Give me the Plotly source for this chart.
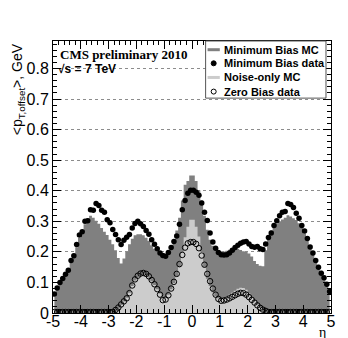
import plotly.graph_objects as go

# eta bin centres (0.1 wide bins)
eta = [
    -4.95, -4.85, -4.75, -4.65, -4.55, -4.45, -4.35, -4.25, -4.15, -4.05,
    -3.95, -3.85, -3.75, -3.65, -3.55, -3.45, -3.35, -3.25, -3.15, -3.05,
    -2.95, -2.85, -2.75, -2.65, -2.55, -2.45, -2.35, -2.25, -2.15, -2.05,
    -1.95, -1.85, -1.75, -1.65, -1.55, -1.45, -1.35, -1.25, -1.15, -1.05,
    -0.95, -0.85, -0.75, -0.65, -0.55, -0.45, -0.35, -0.25, -0.15, -0.05,
    0.05, 0.15, 0.25, 0.35, 0.45, 0.55, 0.65, 0.75, 0.85, 0.95,
    1.05, 1.15, 1.25, 1.35, 1.45, 1.55, 1.65, 1.75, 1.85, 1.95,
    2.05, 2.15, 2.25, 2.35, 2.45, 2.55, 2.65, 2.75, 2.85, 2.95,
    3.05, 3.15, 3.25, 3.35, 3.45, 3.55, 3.65, 3.75, 3.85, 3.95,
    4.05, 4.15, 4.25, 4.35, 4.45, 4.55, 4.65, 4.75, 4.85, 4.95,
]

minbias_mc = [
    0.055, 0.075, 0.095, 0.110, 0.125, 0.140, 0.165, 0.185, 0.215, 0.245,
    0.265, 0.290, 0.310, 0.318, 0.312, 0.302, 0.292, 0.278, 0.266, 0.255,
    0.240, 0.225, 0.205, 0.180, 0.162, 0.178, 0.200, 0.225, 0.243, 0.254,
    0.258, 0.258, 0.254, 0.246, 0.236, 0.222, 0.210, 0.200, 0.192, 0.188,
    0.190, 0.198, 0.214, 0.238, 0.270, 0.312, 0.368, 0.420, 0.432, 0.450,
    0.450, 0.432, 0.402, 0.368, 0.318, 0.272, 0.240, 0.220, 0.206, 0.200,
    0.200, 0.201, 0.204, 0.207, 0.209, 0.210, 0.210, 0.206, 0.202, 0.200,
    0.195, 0.185, 0.170, 0.160, 0.155, 0.153, 0.205, 0.255, 0.270, 0.284,
    0.292, 0.300, 0.306, 0.312, 0.320, 0.316, 0.310, 0.304, 0.294, 0.280,
    0.260, 0.240, 0.220, 0.200, 0.180, 0.158, 0.138, 0.118, 0.095, 0.072,
]

minbias_data = [
    0.062, 0.082, 0.100, 0.113, 0.127, 0.140, 0.172, 0.187, 0.224, 0.255,
    0.266, 0.300, 0.302, 0.338, 0.336, 0.358, 0.352, 0.336, 0.330, 0.305,
    0.295, 0.273, 0.257, 0.240, 0.224, 0.238, 0.248, 0.257, 0.278, 0.293,
    0.300, 0.292, 0.283, 0.270, 0.258, 0.240, 0.225, 0.210, 0.196, 0.188,
    0.186, 0.198, 0.214, 0.234, 0.252, 0.290, 0.338, 0.368, 0.392, 0.402,
    0.402, 0.395, 0.385, 0.360, 0.330, 0.303, 0.262, 0.232, 0.212, 0.198,
    0.191, 0.190, 0.191, 0.196, 0.205, 0.214, 0.222, 0.228, 0.232, 0.234,
    0.226, 0.218, 0.215, 0.218, 0.210, 0.208, 0.226, 0.247, 0.262, 0.286,
    0.302, 0.318, 0.330, 0.332, 0.358, 0.355, 0.345, 0.326, 0.310, 0.286,
    0.268, 0.244, 0.216, 0.196, 0.172, 0.150, 0.130, 0.115, 0.094, 0.070,
]

noise_mc = [0.0] * 22 + [
    0.005, 0.014, 0.026, 0.038, 0.050, 0.066, 0.088, 0.106,
    0.118, 0.125, 0.127, 0.125, 0.116, 0.104, 0.092, 0.078, 0.064, 0.052,
    0.050, 0.060, 0.078, 0.098, 0.120, 0.150, 0.200, 0.248, 0.282, 0.305,
    0.305, 0.282, 0.250, 0.200, 0.150, 0.112, 0.088, 0.068, 0.055, 0.048,
    0.046, 0.050, 0.055, 0.060, 0.066, 0.073, 0.079, 0.083, 0.082, 0.076,
    0.064, 0.052, 0.040, 0.028, 0.018, 0.010, 0.004,
] + [0.0] * 23

zerobias_data = [0.003] * 22 + [
    0.010, 0.018, 0.028, 0.038, 0.048, 0.065, 0.090, 0.110,
    0.122, 0.129, 0.131, 0.128, 0.120, 0.108, 0.094, 0.078, 0.060, 0.042,
    0.044, 0.058, 0.080, 0.102, 0.128, 0.160, 0.190, 0.214, 0.228, 0.232,
    0.232, 0.226, 0.212, 0.188, 0.158, 0.128, 0.104, 0.080, 0.060, 0.046,
    0.040, 0.041, 0.044, 0.048, 0.053, 0.058, 0.063, 0.066, 0.065, 0.060,
    0.052, 0.043, 0.034, 0.025, 0.017, 0.011, 0.007,
] + [0.003] * 23

x_ticks = [-5, -4, -3, -2, -1, 0, 1, 2, 3, 4, 5]
x_ticktext = ["-5", "-4", "-3", "-2", "-1", "0", "1", "2", "3", "4", "5"]

legend_labels = ["Minimum Bias MC", "Minimum Bias data", "Noise-only MC", "Zero Bias data"]

DARK = "#808080"
LIGHT = "#cccccc"
SANS = "Liberation Sans, Arial, sans-serif"
SERIF = "Liberation Serif, Times New Roman, serif"

fig = go.Figure()
# histograms as filled step lines (no seams between bins)
fig.add_trace(go.Scatter(x=eta, y=minbias_mc, mode="lines", line=dict(shape="hvh", width=0, color=DARK),
                         fill="tozeroy", fillcolor=DARK, name=legend_labels[0], showlegend=False))
fig.add_trace(go.Scatter(x=eta, y=noise_mc, mode="lines", line=dict(shape="hvh", width=0, color=LIGHT),
                         fill="tozeroy", fillcolor=LIGHT, name=legend_labels[2], showlegend=False))
fig.add_trace(go.Scatter(x=eta, y=minbias_data, mode="markers", name=legend_labels[1], showlegend=False,
                         marker=dict(symbol="circle", size=5.5, color="black")))
fig.add_trace(go.Scatter(x=eta, y=zerobias_data, mode="markers", name=legend_labels[3], showlegend=False,
                         marker=dict(symbol="circle-open", size=5.5, color="black", line=dict(width=1))))

axis_common = dict(
    showline=True, linecolor="black", linewidth=1, mirror="ticks",
    ticks="inside", ticklen=8, tickcolor="black", tickwidth=1,
    tickfont=dict(family=SANS, size=16, color="black"),
    zeroline=False,
)

fig.update_xaxes(
    range=[-5, 5], tickvals=x_ticks, ticktext=x_ticktext, showgrid=False, ticklabelstandoff=-6,
    minor=dict(ticks="inside", ticklen=4, dtick=0.2, tick0=0, tickcolor="black", showgrid=False),
    **axis_common,
)
fig.update_yaxes(
    range=[0, 0.89], dtick=0.1, tick0=0, showgrid=True, gridcolor="#8c8c8c", griddash="dot", gridwidth=1,
    minor=dict(ticks="inside", ticklen=4, dtick=0.02, tick0=0, tickcolor="black", showgrid=False),
    **axis_common,
)

# legend box drawn by hand (ROOT-style short samples)
leg_rows = [0.968, 0.918, 0.866, 0.814]
shapes = [dict(type="rect", xref="paper", yref="paper", x0=0.549, x1=0.982, y0=0.79, y1=1.0,
               line=dict(color="#555555", width=1), fillcolor="white", layer="above")]
shapes.append(dict(type="line", xref="paper", yref="paper", x0=0.556, x1=0.600, y0=leg_rows[0], y1=leg_rows[0],
                   line=dict(color=DARK, width=3), layer="above"))
shapes.append(dict(type="circle", xref="paper", yref="paper", xsizemode="pixel", ysizemode="pixel",
                   xanchor=0.578, yanchor=leg_rows[1], x0=-2.5, x1=2.5, y0=-2.5, y1=2.5,
                   fillcolor="black", line=dict(color="black", width=1), layer="above"))
shapes.append(dict(type="line", xref="paper", yref="paper", x0=0.556, x1=0.600, y0=leg_rows[2], y1=leg_rows[2],
                   line=dict(color=LIGHT, width=3), layer="above"))
shapes.append(dict(type="circle", xref="paper", yref="paper", xsizemode="pixel", ysizemode="pixel",
                   xanchor=0.578, yanchor=leg_rows[3], x0=-2.5, x1=2.5, y0=-2.5, y1=2.5,
                   fillcolor="white", line=dict(color="black", width=1), layer="above"))

annotations = []
for label, yy in zip(legend_labels, leg_rows):
    annotations.append(dict(text=f"<b>{label}</b>", x=0.607, y=yy, xref="paper", yref="paper",
                            xanchor="left", yanchor="middle", showarrow=False,
                            font=dict(family=SANS, size=11, color="black")))

annotations += [
    dict(text="<b>CMS preliminary 2010</b>", x=0.018, y=0.952, xref="paper", yref="paper",
         xanchor="left", yanchor="middle", showarrow=False, font=dict(family=SERIF, size=13, color="black")),
    dict(text="<b>√s = 7 TeV</b>", x=0.01, y=0.897, xref="paper", yref="paper",
         xanchor="left", yanchor="middle", showarrow=False, font=dict(family=SANS, size=12, color="black")),
    dict(text="&lt;p<sub>T,offset</sub>&gt;, GeV", x=-0.125, y=1.0, xref="paper", yref="paper",
         xanchor="center", yanchor="top", textangle=-90, showarrow=False,
         font=dict(family=SANS, size=14, color="black")),
    dict(text="η", x=0.97, y=-0.072, xref="paper", yref="paper",
         xanchor="center", yanchor="middle", showarrow=False, font=dict(family=SERIF, size=14, color="black")),
]

fig.update_layout(
    width=348, height=338,
    margin=dict(l=45, r=25, t=33, b=33),
    paper_bgcolor="white", plot_bgcolor="white",
    showlegend=False,
    shapes=shapes, annotations=annotations,
)

fig.write_html("out.html")
